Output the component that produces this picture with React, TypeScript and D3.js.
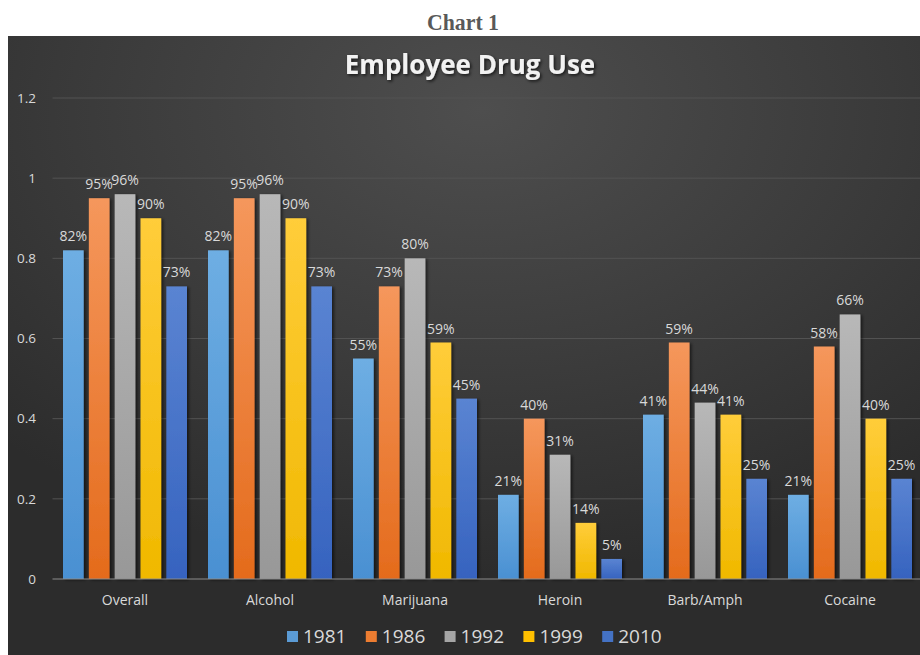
import React from "react";
import * as d3 from "d3";

const categories = ["Overall", "Alcohol", "Marijuana", "Heroin", "Barb/Amph", "Cocaine"];
const seriesNames = ["1981", "1986", "1992", "1999", "2010"];
const v1981 = [0.82, 0.82, 0.55, 0.21, 0.41, 0.21];
const v1986 = [0.95, 0.95, 0.73, 0.40, 0.59, 0.58];
const v1992 = [0.96, 0.96, 0.80, 0.31, 0.44, 0.66];
const v1999 = [0.90, 0.90, 0.59, 0.14, 0.41, 0.40];
const v2010 = [0.73, 0.73, 0.45, 0.05, 0.25, 0.25];
const yTicks = [0, 0.2, 0.4, 0.6, 0.8, 1, 1.2];
const yTickLabels = ["0", "0.2", "0.4", "0.6", "0.8", "1", "1.2"];

const seriesValues = [v1981, v1986, v1992, v1999, v2010];
const colorsTop = ["#6eaee3", "#f5975c", "#b8b8b8", "#ffcd3a", "#5a84d2"];
const colorsBot = ["#4a90d2", "#e46b1c", "#989898", "#f0b800", "#3663bf"];
const legendColors = ["#5b9bd5", "#ed7d31", "#a5a5a5", "#ffc000", "#4472c4"];

const W = 920;
const H = 655;
const FONT = "'Open Sans', 'Noto Sans', sans-serif";

export default function App() {
  const plotLeft = 52.5;
  const plotRight = 922.5;
  const y = d3.scaleLinear().domain([0, 1.2]).range([579, 98]);
  const x0 = d3.scaleBand<string>().domain(categories).range([plotLeft, plotRight]).padding(0);
  const groupPad = 10.5;
  const x1 = d3
    .scaleBand<string>()
    .domain(seriesNames)
    .range([groupPad, x0.bandwidth() - groupPad])
    .paddingInner(0.2)
    .paddingOuter(0);
  const fmt = d3.format(".0%");

  return (
    <svg
      width={W}
      height={H}
      style={{ position: "absolute", left: 0, top: 0, display: "block" }}
      xmlns="http://www.w3.org/2000/svg"
    >
      <defs>
        <radialGradient id="bg" cx="0.52" cy="0.12" r="0.75" fx="0.52" fy="0.12">
          <stop offset="0" stopColor="#4e4e4e" />
          <stop offset="0.6" stopColor="#3a3a3a" />
          <stop offset="1" stopColor="#2c2c2c" />
        </radialGradient>
        {seriesNames.map((s, i) => (
          <linearGradient key={s} id={`g${i}`} x1="0" y1="0" x2="0" y2="1">
            <stop offset="0" stopColor={colorsTop[i]} />
            <stop offset="1" stopColor={colorsBot[i]} />
          </linearGradient>
        ))}
        <filter id="shadow" x="-30%" y="-10%" width="160%" height="120%">
          <feDropShadow dx="2" dy="1" stdDeviation="1.5" floodColor="#000" floodOpacity="0.55" />
        </filter>
        <filter id="tshadow" x="-10%" y="-30%" width="120%" height="160%">
          <feDropShadow dx="1.5" dy="1.5" stdDeviation="1.5" floodColor="#000" floodOpacity="0.7" />
        </filter>
      </defs>
      <rect x={0} y={0} width={W} height={H} fill="#ffffff" />
      <text
        x={463}
        y={30}
        textAnchor="middle"
        fontFamily="'Liberation Serif', 'DejaVu Serif', serif"
        fontWeight="bold"
        fontSize={23}
        fill="#595959"
        textLength={72}
        lengthAdjust="spacingAndGlyphs"
      >
        Chart 1
      </text>
      <rect x={8} y={36} width={W - 8} height={H - 36} fill="url(#bg)" />
      <text
        x={470}
        y={74}
        textAnchor="middle"
        fontFamily={FONT}
        fontWeight="bold"
        fontSize={26}
        fill="#f2f2f2"
        filter="url(#tshadow)"
      >
        Employee Drug Use
      </text>
      {yTicks.map((t, i) => (
        <g key={t}>
          {t !== 0 && (
            <line x1={plotLeft} x2={W} y1={y(t)} y2={y(t)} stroke="#525252" strokeWidth={1} />
          )}
          <text
            x={36}
            y={y(t)}
            dy="0.35em"
            textAnchor="end"
            fontFamily={FONT}
            fontSize={13.5}
            fill="#d9d9d9"
          >
            {yTickLabels[i]}
          </text>
        </g>
      ))}
      {categories.map((c, ci) => (
        <g key={c} transform={`translate(${x0(c)},0)`}>
          {seriesNames.map((s, si) => {
            const v = seriesValues[si][ci];
            const bx = x1(s) as number;
            return (
              <rect
                key={s}
                x={bx}
                y={y(v)}
                width={x1.bandwidth()}
                height={y(0) - y(v)}
                fill={`url(#g${si})`}
                filter="url(#shadow)"
              />
            );
          })}
          {seriesNames.map((s, si) => {
            const v = seriesValues[si][ci];
            const bx = x1(s) as number;
            return (
              <text
                key={s}
                x={bx + x1.bandwidth() / 2}
                y={y(v) - 9}
                textAnchor="middle"
                fontFamily={FONT}
                fontSize={14}
                fill="#d9d9d9"
              >
                {fmt(v)}
              </text>
            );
          })}
          <text
            x={x0.bandwidth() / 2}
            y={605}
            textAnchor="middle"
            fontFamily={FONT}
            fontSize={14}
            fill="#d9d9d9"
          >
            {c}
          </text>
        </g>
      ))}
      <line x1={plotLeft} x2={W} y1={y(0)} y2={y(0)} stroke="#8c8c8c" strokeWidth={1.2} />
      {seriesNames.map((s, i) => {
        const lx = 287 + i * 78.8;
        return (
          <g key={s}>
            <rect x={lx} y={631} width={11} height={11} fill={legendColors[i]} />
            <text x={lx + 16} y={643} fontFamily={FONT} fontSize={19} fill="#d9d9d9">
              {s}
            </text>
          </g>
        );
      })}
    </svg>
  );
}
